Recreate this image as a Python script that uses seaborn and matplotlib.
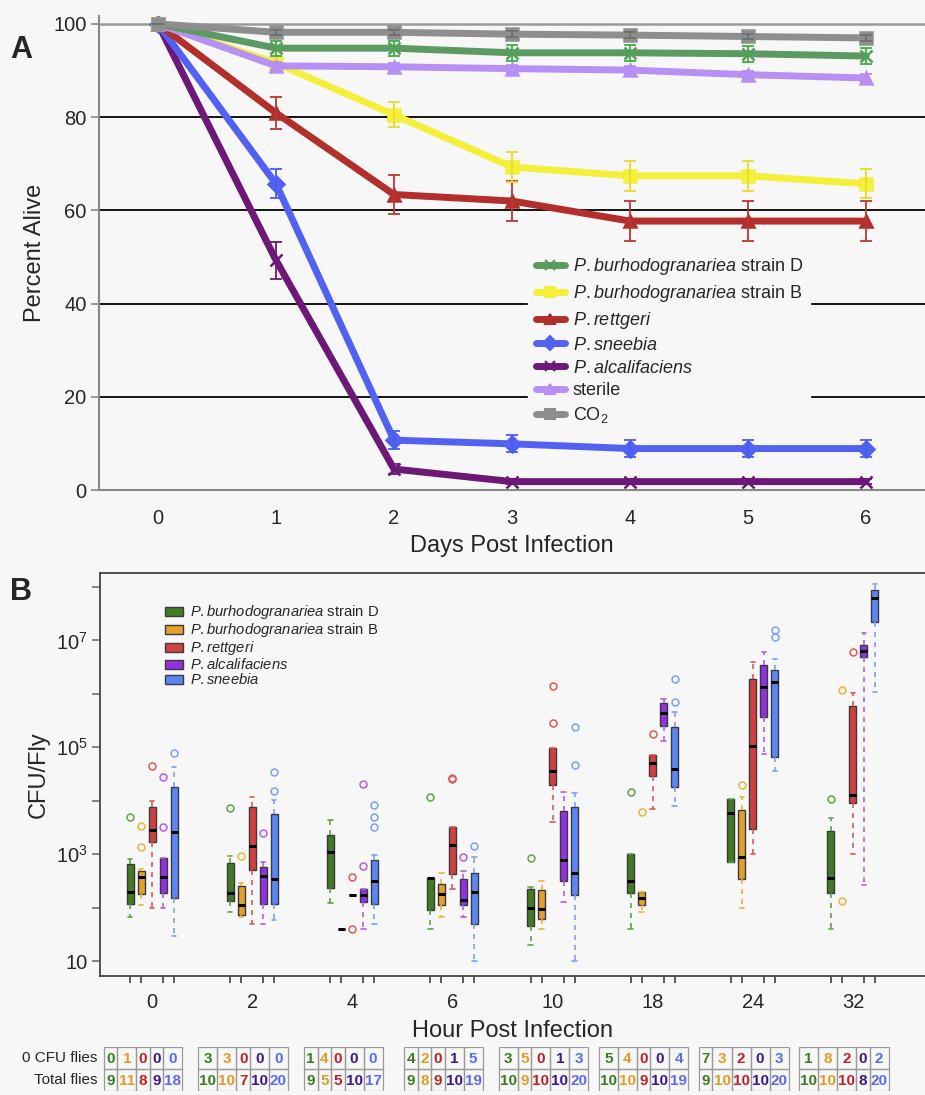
import matplotlib
matplotlib.use('Agg')
import matplotlib.pyplot as plt
from matplotlib.lines import Line2D
from matplotlib.patches import Patch, Rectangle
import pandas as pd
import seaborn as sns

# ---------------- panel A : survival ----------------
days = [0, 1, 2, 3, 4, 5, 6]
names_a = ['D', 'B', 'rettgeri', 'sneebia', 'alcalifaciens', 'sterile', 'CO2']
labels_a = [r'$\mathit{P.burhodogranariea}$ strain D',
            r'$\mathit{P.burhodogranariea}$ strain B',
            r'$\mathit{P.rettgeri}$',
            r'$\mathit{P.sneebia}$',
            r'$\mathit{P.alcalifaciens}$',
            'sterile',
            r'CO$_2$']
alive_D = [100, 94.8, 94.8, 93.8, 93.8, 93.6, 93.1]
alive_B = [100, 91.6, 80.5, 69.3, 67.4, 67.4, 65.7]
alive_rett = [100, 80.9, 63.4, 62.0, 57.7, 57.7, 57.7]
alive_snee = [100, 65.7, 10.7, 9.9, 8.9, 8.9, 8.9]
alive_alca = [100, 49.3, 4.5, 1.8, 1.8, 1.8, 1.8]
alive_ster = [100, 91.0, 90.8, 90.4, 90.1, 89.1, 88.4]
alive_co2 = [100, 98.2, 98.2, 97.8, 97.6, 97.3, 97.0]
err_D = [0, 1.6, 1.6, 1.7, 1.7, 1.7, 1.8]
err_B = [0, 1.5, 2.7, 3.2, 3.2, 3.2, 3.1]
err_rett = [0, 3.4, 4.2, 4.2, 4.3, 4.3, 4.3]
err_snee = [0, 3.1, 1.9, 1.8, 1.8, 1.8, 1.8]
err_alca = [0, 4.0, 1.0, 0.5, 0.5, 0.5, 0.5]
err_ster = [0, 0.8, 0.8, 0.8, 0.8, 0.8, 0.8]
err_co2 = [0, 0.6, 0.6, 0.6, 0.6, 0.6, 0.6]

alive_all = [alive_D, alive_B, alive_rett, alive_snee, alive_alca, alive_ster, alive_co2]
err_all = [err_D, err_B, err_rett, err_snee, err_alca, err_ster, err_co2]

# ---------------- panel B : bacterial load ----------------
hours = ['0', '2', '4', '6', '10', '18', '24', '32']
labels_b = [r'$\mathit{P.burhodogranariea}$ strain D',
            r'$\mathit{P.burhodogranariea}$ strain B',
            r'$\mathit{P.rettgeri}$',
            r'$\mathit{P.alcalifaciens}$',
            r'$\mathit{P.sneebia}$']
# log10 CFU/fly: (whisker low, q1, median, q3, whisker high)
box_D = [(1.825, 2.075, 2.29, 2.81, 2.9), (1.91, 2.12, 2.275, 2.83, 2.96),
         (2.09, 2.375, 3.04, 3.36, 3.64), (1.6, 1.95, 2.56, 2.56, 2.56),
         (1.3, 1.65, 2.0, 2.34, 2.39), (1.6, 2.28, 2.5, 3.01, 3.01),
         (2.86, 2.86, 3.77, 4.04, 4.04), (1.6, 2.28, 2.56, 3.44, 3.68)]
out_D = [[3.69], [3.86], [], [4.06], [2.92], [4.17], [], [4.03]]
box_B = [(2.04, 2.26, 2.575, 2.69, 2.72), (1.825, 1.86, 2.04, 2.4, 2.46),
         (1.6, 1.6, 1.6, 1.6, 1.6), (1.825, 2.04, 2.26, 2.45, 2.64),
         (1.6, 1.78, 1.97, 2.33, 2.5), (1.91, 2.05, 2.17, 2.3, 2.3),
         (2.0, 2.53, 2.95, 3.83, 4.06), None]
out_B = [[3.14, 3.52], [2.96], [], [], [], [3.78], [4.3], [2.13, 6.08]]
box_rett = [(2.0, 3.23, 3.45, 3.88, 4.0), (1.7, 2.71, 3.16, 3.88, 4.07),
            (2.23, 2.23, 2.23, 2.23, 2.23), (2.34, 2.625, 3.18, 3.51, 3.51),
            (3.6, 4.3, 4.55, 4.99, 4.99), (3.84, 4.46, 4.7, 4.85, 4.85),
            (3.0, 3.47, 5.02, 6.27, 6.59), (3.0, 3.95, 4.1, 5.77, 6.02)]
out_rett = [[4.65], [], [1.6, 2.57], [4.4, 4.43], [5.45, 6.14], [5.24], [], [6.78]]
box_alca = [(2.0, 2.275, 2.575, 2.92, 2.92), (1.7, 2.075, 2.59, 2.76, 2.86),
            (1.6, 2.11, 2.23, 2.35, 2.35), (1.825, 2.04, 2.14, 2.54, 2.69),
            (2.11, 2.5, 2.89, 3.81, 4.17), (5.11, 5.39, 5.64, 5.83, 5.91),
            (4.88, 5.57, 6.13, 6.54, 6.79), (2.42, 6.68, 6.8, 6.92, 7.14)]
out_alca = [[3.5, 4.44], [3.39], [2.78, 4.31], [2.95], [], [], [], []]
box_snee = [(1.475, 2.17, 3.42, 4.26, 4.625), (1.775, 2.075, 2.54, 3.75, 4.01),
            (1.7, 2.075, 2.5, 2.89, 2.975), (1.0, 1.7, 2.29, 2.64, 2.95),
            (1.0, 2.23, 2.64, 3.88, 4.15), (3.9, 4.26, 4.6, 5.38, 5.65),
            (4.56, 4.81, 6.22, 6.45, 6.66), (6.03, 7.34, 7.8, 7.95, 8.06)]
out_snee = [[4.89], [4.175, 4.54], [3.51, 3.69, 3.91], [3.16], [4.66, 5.38],
            [5.84, 6.28], [7.06, 7.19], []]

zero_D = [0, 3, 1, 4, 3, 5, 7, 1]
zero_B = [1, 3, 4, 2, 5, 4, 3, 8]
zero_rett = [0, 0, 0, 0, 0, 0, 2, 2]
zero_alca = [0, 0, 0, 1, 1, 0, 0, 0]
zero_snee = [0, 0, 0, 5, 3, 4, 3, 2]
total_D = [9, 10, 9, 9, 10, 10, 9, 10]
total_B = [11, 10, 5, 8, 9, 10, 10, 10]
total_rett = [8, 7, 5, 9, 10, 9, 10, 10]
total_alca = [9, 10, 10, 10, 10, 10, 10, 8]
total_snee = [18, 20, 17, 19, 20, 19, 20, 20]

# ---------------- style ----------------
sns.set_style('white')
plt.rcParams['font.family'] = ['Liberation Sans', 'DejaVu Sans']
plt.rcParams['mathtext.fontset'] = 'custom'
plt.rcParams['mathtext.rm'] = 'Liberation Sans'
plt.rcParams['mathtext.it'] = 'Liberation Sans:italic'
plt.rcParams['mathtext.bf'] = 'Liberation Sans:bold'

bg = '#f7f7f7'
line_cols = ['#5b9a60', '#f3ef3b', '#b22f2b', '#5361f2', '#6b1877', '#b890f5', '#8e8e8e']
err_cols = ['#3cb043', '#e6dc2a', '#b83a34', '#4a5cf0', '#6b1877', '#b38ef5', '#707070']
marks = ['x', 's', '^', 'D', 'x', '^', 's']

box_cols = ['#437a26', '#e2a12f', '#d0413f', '#9331e0', '#5b86f5']
lite_cols = ['#5ea644', '#efb43a', '#e0585a', '#b55cf0', '#7aa0ff']
num_cols = ['#3b7d23', '#e39a26', '#c0202a', '#3d1a8c', '#5b6cf0']

fig = plt.figure(figsize=(9.25, 10.95), dpi=100, facecolor=bg)

# ---------------- panel A ----------------
axA = fig.add_axes([0.1070, 0.5525, 0.8930, 0.4329], facecolor=bg)

rows = []
for nm, vals in zip(names_a, alive_all):
    for d, v in zip(days, vals):
        rows.append((d, v, nm))
df_a = pd.DataFrame(rows, columns=['day', 'alive', 'group'])

draw_order = ['alcalifaciens', 'sneebia', 'rettgeri', 'B', 'sterile', 'D', 'CO2']
pal = dict(zip(names_a, line_cols))
mk = dict(zip(names_a, marks))
for nm in draw_order:
    sub = df_a[df_a['group'] == nm]
    sns.lineplot(data=sub, x='day', y='alive', color=pal[nm], marker=mk[nm],
                 linewidth=5, markersize=8, markeredgecolor=pal[nm],
                 markeredgewidth=1.8, legend=False, ax=axA, zorder=3)
    i = names_a.index(nm)
    axA.errorbar(days, alive_all[i], yerr=err_all[i], fmt='none',
                 ecolor=err_cols[i], elinewidth=1.3, capsize=4, capthick=1.3,
                 zorder=4)

axA.set_xlim(-0.5, 6.5)
axA.set_ylim(0, 101.7)
axA.set_yticks([0, 20, 40, 60, 80, 100])
axA.set_xticks(days)
axA.set_xticks([d - 0.5 for d in days] + [6.5], minor=True)
axA.yaxis.grid(True, color='black', lw=1.3, zorder=0)
axA.get_ygridlines()[-1].set_color('#9a9a9a')
axA.get_ygridlines()[-1].set_linewidth(1.8)
axA.set_axisbelow(True)
axA.tick_params(axis='x', which='major', length=0, labelsize=14.5, pad=14)
axA.tick_params(axis='x', which='minor', length=6, width=1.2, color='#888888',
                direction='out')
axA.tick_params(axis='y', length=6, width=1.2, color='#888888', labelsize=14.5,
                pad=3, left=True)
for s in ['top', 'right']:
    axA.spines[s].set_visible(False)
for s in ['left', 'bottom']:
    axA.spines[s].set_color('#888888')
    axA.spines[s].set_linewidth(1.5)
axA.set_xlabel('Days Post Infection', fontsize=17, labelpad=5)
axA.set_ylabel('Percent Alive', fontsize=17, labelpad=5)

hA = [Line2D([], [], color=c, lw=5, marker=m, markersize=7, markeredgecolor=c,
             markeredgewidth=1.5) for c, m in zip(line_cols, marks)]
legA = axA.legend(hA, labels_a, loc='upper left', bbox_to_anchor=(0.509, 0.527),
                  fontsize=13, frameon=True, facecolor=bg, edgecolor=bg,
                  framealpha=1, handlelength=1.6, handletextpad=0.45,
                  labelspacing=0.32, borderpad=0.4, fancybox=False)
legA.set_zorder(5)

fig.text(0.011, 0.947, 'A', fontsize=22, fontweight='bold')

# ---------------- panel B ----------------
axB = fig.add_axes([0.1081, 0.1087, 0.8919, 0.368], facecolor=bg)
axB.set_yscale('log')

boxes_all = [box_D, box_B, box_rett, box_alca, box_snee]
outs_all = [out_D, out_B, out_rett, out_alca, out_snee]
step = 0.11
for j, (bx, ou) in enumerate(zip(boxes_all, outs_all)):
    stats, pos = [], []
    for g, (b, o) in enumerate(zip(bx, ou)):
        x = g + (j - 2) * step
        if b is None:
            axB.plot([x] * len(o), [10 ** v for v in o], ls='none', marker='o',
                     mfc='none', mec=lite_cols[j], ms=5, mew=1.1)
            continue
        lo, q1, med, q3, hi = [10 ** v for v in b]
        stats.append(dict(whislo=lo, q1=q1, med=med, q3=q3, whishi=hi,
                          fliers=[10 ** v for v in o]))
        pos.append(x)
    axB.bxp(stats, positions=pos, widths=0.07, patch_artist=True,
            manage_ticks=False, capwidths=0.045,
            boxprops=dict(facecolor=box_cols[j], edgecolor='#3a3a3a', lw=1),
            medianprops=dict(color='black', lw=2.2, solid_capstyle='butt'),
            whiskerprops=dict(color=lite_cols[j], ls=(0, (3, 3)), lw=1.2),
            capprops=dict(color=lite_cols[j], lw=1.2),
            flierprops=dict(marker='o', mfc='none', mec=lite_cols[j], ms=5,
                            mew=1.1))

axB.set_xlim(-0.52, 7.72)
axB.set_ylim(10 ** 0.72, 10 ** 8.26)
dec = [10 ** k for k in range(1, 9)]
axB.yaxis.set_major_locator(matplotlib.ticker.FixedLocator(dec))
axB.yaxis.set_major_formatter(matplotlib.ticker.FixedFormatter(
    ['10', '', r'$10^3$', '', r'$10^5$', '', r'$10^7$', '']))
axB.yaxis.set_minor_locator(matplotlib.ticker.NullLocator())
axB.set_xticks(range(len(hours)))
axB.set_xticklabels(hours)
axB.set_xticks([g + (j - 2) * step for g in range(8) for j in range(5)],
               minor=True)
axB.tick_params(axis='x', which='major', length=0, labelsize=14.5, pad=12)
axB.tick_params(axis='x', which='minor', length=5, width=1.1, color='#333333',
                direction='out', bottom=True)
axB.tick_params(axis='y', length=6, width=1.1, color='#666666', labelsize=14.5,
                left=True, pad=3)
axB.spines['right'].set_visible(False)
for s in ['left', 'top', 'bottom']:
    axB.spines[s].set_color('#444444')
    axB.spines[s].set_linewidth(1.3)
axB.set_xlabel('Hour Post Infection', fontsize=17, labelpad=6)
axB.set_ylabel('CFU/Fly', fontsize=17, labelpad=4)

hB = [Patch(facecolor=c, edgecolor='#3a3a3a', lw=1) for c in box_cols]
axB.legend(hB, labels_b, loc='upper left', bbox_to_anchor=(0.066, 0.95),
           fontsize=10.6, frameon=False, handlelength=1.25, handleheight=0.6,
           handletextpad=0.45, labelspacing=0.0, borderpad=0.2)

fig.text(0.011, 0.452, 'B', fontsize=22, fontweight='bold')

# ---------------- count table ----------------
axT = fig.add_axes([0.1081, 0.0037, 0.8919, 0.0402])
axT.set_xlim(axB.get_xlim())
axT.set_ylim(0, 2)
axT.axis('off')
zero_all = [zero_D, zero_B, zero_rett, zero_alca, zero_snee]
total_all = [total_D, total_B, total_rett, total_alca, total_snee]
for g in range(len(hours)):
    widths = []
    for j in range(5):
        nd = max(len(str(zero_all[j][g])), len(str(total_all[j][g])))
        widths.append(0.19 if nd > 1 else 0.135)
    x0 = g - 0.09 - sum(widths) / 2
    for j in range(5):
        cw = widths[j]
        for r, tab in enumerate([zero_all, total_all]):
            axT.add_patch(Rectangle((x0, 1 - r), cw, 1, fill=False,
                                    ec='#9a9a9a', lw=0.9))
            axT.text(x0 + cw / 2, 1.47 - r, str(tab[j][g]), ha='center',
                     va='center', fontsize=11, fontweight='bold',
                     color=num_cols[j])
        x0 += cw

fig.text(97 / 925, 1 - 1058 / 1095, '0 CFU flies', ha='right', va='center',
         fontsize=11)
fig.text(97 / 925, 1 - 1080 / 1095, 'Total flies', ha='right', va='center',
         fontsize=11)

fig.savefig('out.png', dpi=100, facecolor=bg)
